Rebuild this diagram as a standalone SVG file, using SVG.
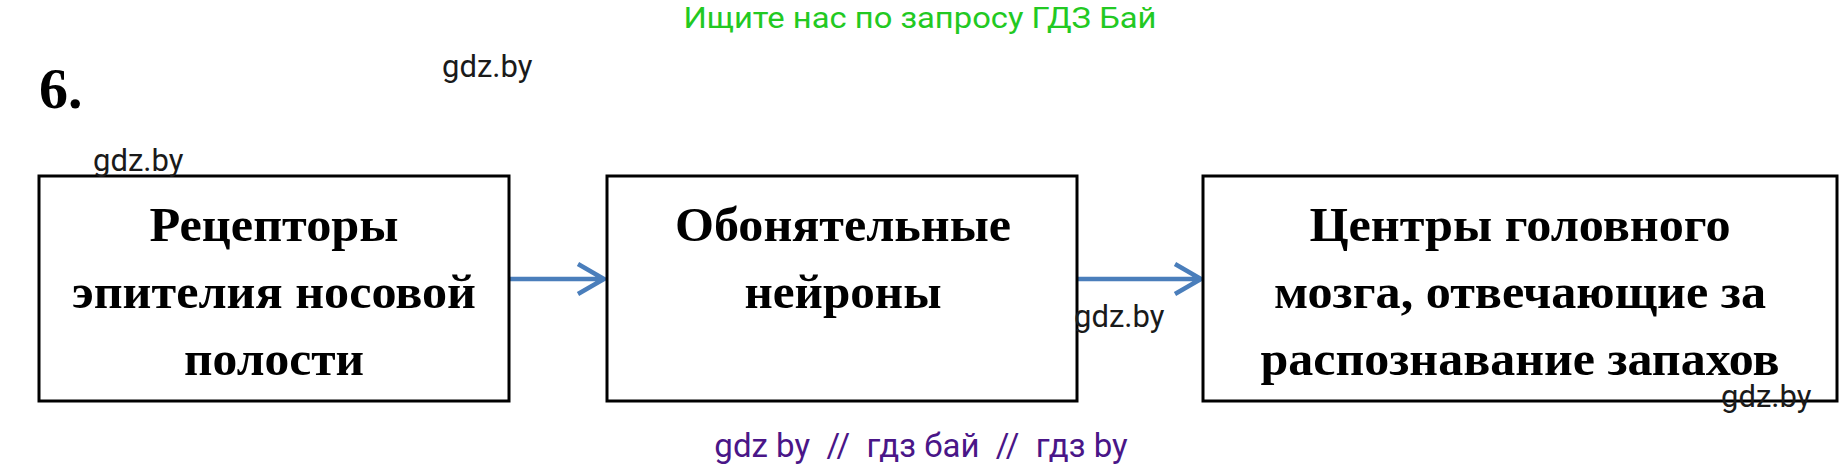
<svg xmlns="http://www.w3.org/2000/svg" width="1845" height="469" viewBox="0 0 1845 469">
<style>
.box{fill:#fff;stroke:#000;stroke-width:3}
.lbl{font-family:"Liberation Serif","Times New Roman",serif;font-weight:bold;font-size:48px;fill:#000;text-anchor:middle}
.wm{font-family:Roboto,"Liberation Sans",sans-serif;font-size:31px;fill:#1a1a1a}
.con{stroke:#4a7ebb;stroke-width:4.5;fill:none}
</style>
<rect width="1845" height="469" fill="#fff"/>
<text x="920" y="28" font-family="Roboto,'Liberation Sans',sans-serif" font-size="29" fill="#22c922" text-anchor="middle" textLength="473" lengthAdjust="spacingAndGlyphs">Ищите нас по запросу ГДЗ Бай</text>
<text x="39" y="108" font-family="'Liberation Serif','Times New Roman',serif" font-weight="bold" font-size="58" fill="#000">6.</text>
<g id="connectors">
<path class="con" d="M509 279H604M578 264L604 279L578 294"/>
<path class="con" d="M1077 279H1201M1175 264L1201 279L1175 294"/>
</g>
<g id="node1">
<rect class="box" x="39" y="176" width="470" height="225"/>
<text class="lbl" x="274" y="241" textLength="249" lengthAdjust="spacingAndGlyphs">Рецепторы</text>
<text class="lbl" x="274" y="308" textLength="404" lengthAdjust="spacingAndGlyphs">эпителия носовой</text>
<text class="lbl" x="274" y="375" textLength="180" lengthAdjust="spacingAndGlyphs">полости</text>
</g>
<g id="node2">
<rect class="box" x="607" y="176" width="470" height="225"/>
<text class="lbl" x="843" y="241" textLength="336" lengthAdjust="spacingAndGlyphs">Обонятельные</text>
<text class="lbl" x="843" y="308" textLength="197" lengthAdjust="spacingAndGlyphs">нейроны</text>
</g>
<g id="node3">
<rect class="box" x="1203" y="176" width="634" height="225"/>
<text class="lbl" x="1520" y="241" textLength="421" lengthAdjust="spacingAndGlyphs">Центры головного</text>
<text class="lbl" x="1520" y="308" textLength="492" lengthAdjust="spacingAndGlyphs">мозга, отвечающие за</text>
<text class="lbl" x="1520" y="375" textLength="519" lengthAdjust="spacingAndGlyphs">распознавание запахов</text>
</g>
<text class="wm" x="442" y="77">gdz.by</text>
<text class="wm" x="93" y="171">gdz.by</text>
<text class="wm" x="1074" y="327">gdz.by</text>
<text class="wm" x="1721" y="407">gdz.by</text>
<text x="921" y="457" font-family="Roboto,'Liberation Sans',sans-serif" font-size="33" fill="#4a1688" text-anchor="middle" xml:space="preserve">gdz by  //  гдз бай  //  гдз by</text>
</svg>
